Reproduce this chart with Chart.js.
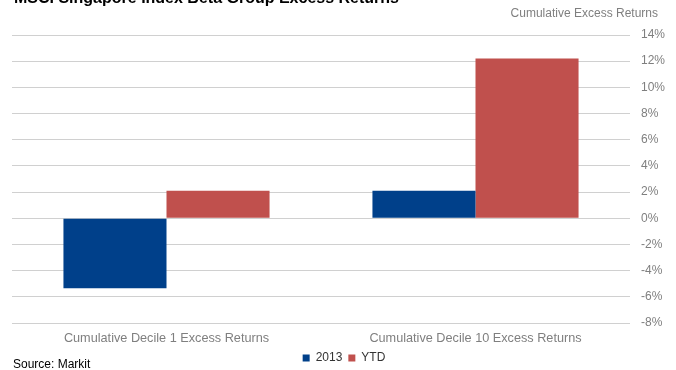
<!DOCTYPE html>
<html><head><meta charset="utf-8">
<script src="https://cdn.jsdelivr.net/npm/chart.js@4/dist/chart.umd.min.js"></script>
<style>html,body{margin:0;padding:0;background:#fff;overflow:hidden}#wrap{width:676px;height:370px;position:relative}</style>
</head><body><div id="wrap"><canvas id="c" width="676" height="370"></canvas></div>
<script>
const categories = ["Cumulative Decile 1 Excess Returns", "Cumulative Decile 10 Excess Returns"];
const series2013 = [-5.35, 2.1];
const seriesYTD = [2.1, 12.2];
const seriesNames = ["2013", "YTD"];
const yTicks = [-8, -6, -4, -2, 0, 2, 4, 6, 8, 10, 12, 14];
const titleText = "MSCI Singapore Index Beta Group Excess Returns";
const axisTitle = "Cumulative Excess Returns";
const sourceText = "Source: Markit";

const FONT = "'Liberation Sans', Arial, sans-serif";
const textPlugin = {
  id: 'texts',
  afterDraw(chart) {
    const ctx = chart.ctx;
    ctx.save();
    ctx.textBaseline = 'alphabetic';
    ctx.fillStyle = '#000';
    ctx.font = 'bold 16px ' + FONT;
    ctx.textAlign = 'left';
    ctx.fillText(titleText, 14, 3);
    ctx.font = '12px ' + FONT;
    ctx.fillStyle = '#7f7f7f';
    ctx.textAlign = 'right';
    ctx.fillText(axisTitle, 658, 17);
    ctx.fillStyle = '#000';
    ctx.textAlign = 'left';
    ctx.fillText(sourceText, 13, 368);
    ctx.restore();
  }
};

new Chart(document.getElementById('c'), {
  type: 'bar',
  data: {
    labels: categories,
    datasets: [
      { label: seriesNames[0], data: series2013, backgroundColor: '#00408a' },
      { label: seriesNames[1], data: seriesYTD, backgroundColor: '#c0504d' }
    ]
  },
  options: {
    responsive: false,
    animation: false,
    layout: { padding: { left: 12, top: 35, right: 0, bottom: 0 } },
    plugins: {
      legend: {
        position: 'bottom',
        maxHeight: 24,
        labels: { boxWidth: 7, boxHeight: 7, padding: 6, color: '#333', font: { family: FONT, size: 12 } }
      },
      tooltip: { enabled: false }
    },
    datasets: { bar: { categoryPercentage: 0.667, barPercentage: 1 } },
    scales: {
      x: {
        grid: { display: false, drawTicks: false },
        border: { display: false },
        afterFit(scale) { scale.height = 23; },
        ticks: { color: '#7f7f7f', font: { family: FONT, size: 12.7 }, padding: 8 }
      },
      y: {
        position: 'right',
        min: -8, max: 14,
        afterBuildTicks(scale) { scale.ticks = yTicks.map(v => ({ value: v })); },
        afterFit(scale) { scale.width = 46; },
        ticks: { color: '#7f7f7f', font: { family: FONT, size: 12 }, padding: 11, callback: v => v + '%' },
        grid: { color: '#d0d0d0', drawTicks: false },
        border: { display: false }
      }
    }
  },
  plugins: [textPlugin]
});
</script></body></html>
